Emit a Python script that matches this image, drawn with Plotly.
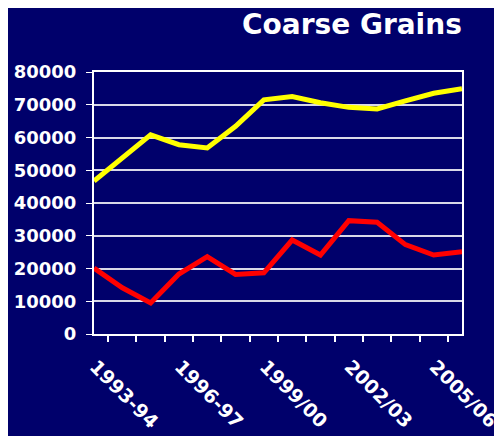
import plotly.graph_objects as go

anos = ['1992-93', '1993-94', '1994-95', '1995-96', '1996-97', '1997-98', '1998-99',
        '1999/00', '2000/01', '2001/02', '2002/03', '2003/04', '2004/05', '2005/06']
amarelo = [46700, 53700, 60800, 57800, 56800, 63400, 71500, 72500, 70600, 69200,
           68700, 71200, 73500, 74900]
vermelho = [20100, 14100, 9500, 18300, 23600, 18200, 18700, 28700, 24100, 34600,
            34100, 27300, 24100, 25100]
rotulos = [a if i % 3 == 1 else '' for i, a in enumerate(anos)]

fundo = '#00006b'

fig = go.Figure(data=[
    go.Scatter(x=anos, y=amarelo, mode='lines', line=dict(color='#ffff00', width=5)),
    go.Scatter(x=anos, y=vermelho, mode='lines', line=dict(color='#ff0000', width=5)),
])

fig.update_layout(
    width=502, height=436,
    paper_bgcolor=fundo, plot_bgcolor=fundo,
    showlegend=False,
    margin=dict(l=86, r=48, t=64, b=110),
    font=dict(family='DejaVu Sans', color='white'),
    title=dict(text='<b>Coarse Grains</b>', x=0.904, xanchor='right', y=0.962, yanchor='middle',
               font=dict(size=28, color='white')),
)

fig.update_xaxes(
    type='category', tickvals=anos, ticktext=rotulos, tickson='boundaries',
    ticks='outside', ticklen=6, tickcolor='white', tickwidth=1.5,
    showline=True, linecolor='white', linewidth=2, mirror=True, automargin=False,
    showgrid=False, tickangle=45, ticklabelshift=-27, ticklabelstandoff=12,
    tickfont=dict(size=19, color='white', family='DejaVu Sans', weight='bold'),
)
fig.update_yaxes(
    range=[0, 80000], dtick=10000, tickformat='d', ticks='outside', ticklen=6,
    tickcolor='white', automargin=False, ticklabelstandoff=6,
    showline=True, linecolor='white', linewidth=2, mirror=True,
    gridcolor='#d8d8e8', gridwidth=1.5, zeroline=False,
    tickfont=dict(size=18, color='white', family='DejaVu Sans', weight='bold'),
)

fig.write_html('out.html')
